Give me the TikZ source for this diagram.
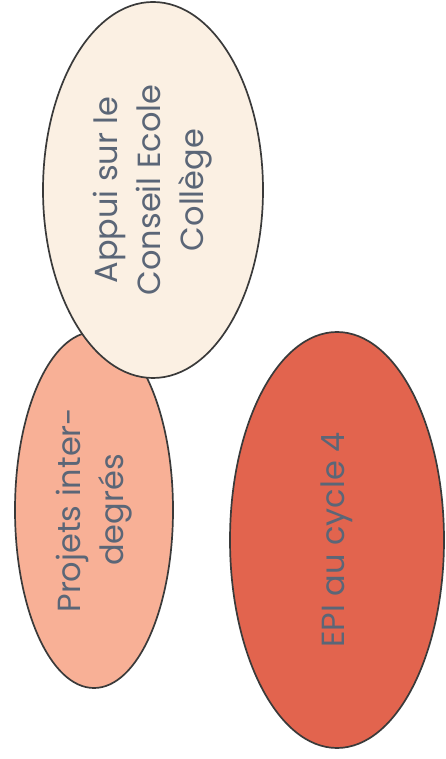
\documentclass[tikz,border=0pt]{standalone}
\usepackage{fontspec}
\setmainfont{Poppins}
\usepackage{tikz}
\usetikzlibrary{shapes.geometric}
\definecolor{cremeFill}{HTML}{FBF0E3}
\definecolor{saumonFill}{HTML}{F8B096}
\definecolor{rougeFill}{HTML}{E2644E}
\definecolor{texteGris}{HTML}{5B6677}
\definecolor{bordGris}{HTML}{3A3A3A}

\begin{document}
\begin{tikzpicture}[
  x=1pt,y=1pt,
  bulle/.style={
    ellipse,
    draw=bordGris,
    line width=1.7pt,
    rotate=90,
    align=center,
    inner sep=0pt,
    text=texteGris,
    font=\fontsize{32}{43}\selectfont
  }
]
\useasboundingbox (0,0) rectangle (445,759);
\node[bulle,fill=saumonFill,minimum width=356,minimum height=158] (projets) at (94,249) {Projets inter-\\degrés};
\node[bulle,fill=cremeFill,minimum width=376,minimum height=220] (appui) at (153,569) {Appui sur le\\Conseil Ecole\\Collège};
\node[bulle,fill=rougeFill,minimum width=416,minimum height=214] (epi) at (337,219) {EPI au cycle 4};
\end{tikzpicture}
\end{document}
